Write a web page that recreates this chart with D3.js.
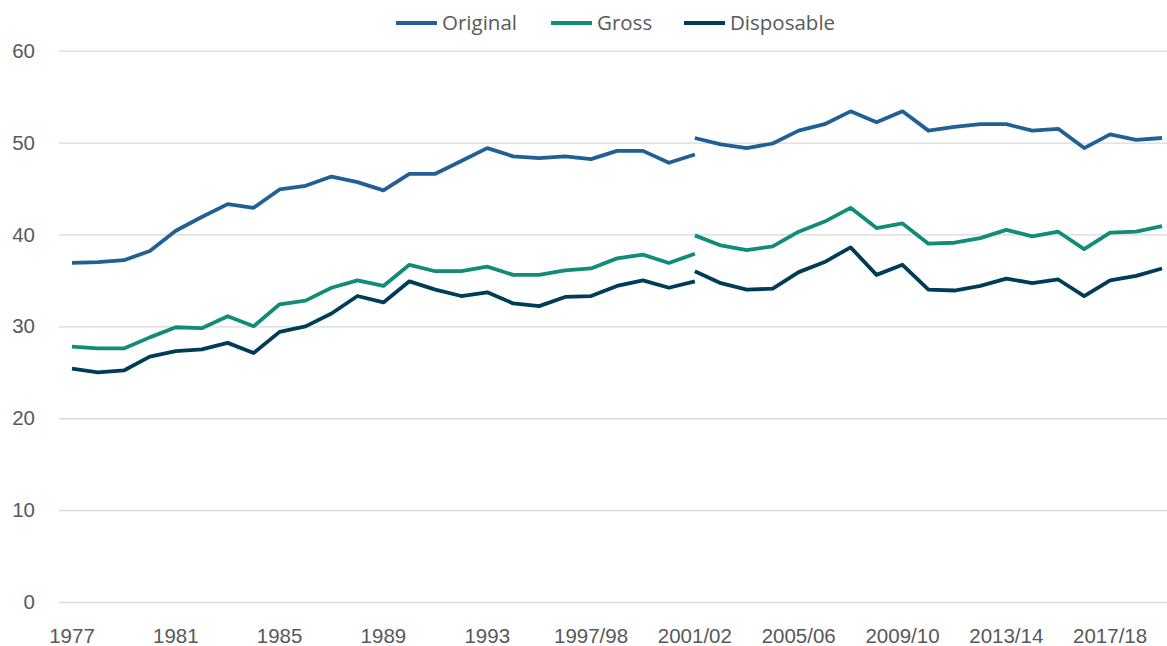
<!DOCTYPE html>
<html>
<head>
<meta charset="utf-8">
<script src="https://cdn.jsdelivr.net/npm/d3@7"></script>
<style>
  body { margin: 0; background: #fff; }
  svg { display: block; font-family: "Open Sans", "Noto Sans", sans-serif; }
</style>
</head>
<body>
<div id="chart"></div>
<script>
// categories: calendar years to 1993, then financial years
const years = ["1977","1978","1979","1980","1981","1982","1983","1984","1985","1986",
  "1987","1988","1989","1990","1991","1992","1993","1994/95","1995/96","1996/97",
  "1997/98","1998/99","1999/00","2000/01","2001/02","2002/03","2003/04","2004/05",
  "2005/06","2006/07","2007/08","2008/09","2009/10","2010/11","2011/12","2012/13",
  "2013/14","2014/15","2015/16","2016/17","2017/18","2018/19","2019/20"];

// series break at 2001/02: old method 1977 to 2001/02, new method 2001/02 on
const originalOld = [36.9,37.0,37.2,38.2,40.4,41.9,43.3,42.9,44.9,45.3,46.3,45.7,44.8,
  46.6,46.6,48.0,49.4,48.5,48.3,48.5,48.2,49.1,49.1,47.8,48.7];
const originalNew = [50.5,49.8,49.4,49.9,51.3,52.0,53.4,52.2,53.4,51.3,51.7,52.0,52.0,
  51.3,51.5,49.4,50.9,50.3,50.5];
const grossOld = [27.8,27.6,27.6,28.8,29.9,29.8,31.1,30.0,32.4,32.8,34.2,35.0,34.4,
  36.7,36.0,36.0,36.5,35.6,35.6,36.1,36.3,37.4,37.8,36.9,37.9];
const grossNew = [39.9,38.8,38.3,38.7,40.3,41.4,42.9,40.7,41.2,39.0,39.1,39.6,40.5,
  39.8,40.3,38.4,40.2,40.3,40.9];
const disposableOld = [25.4,25.0,25.2,26.7,27.3,27.5,28.2,27.1,29.4,30.0,31.4,33.3,32.6,
  34.9,34.0,33.3,33.7,32.5,32.2,33.2,33.3,34.4,35.0,34.2,34.9];
const disposableNew = [36.0,34.7,34.0,34.1,35.9,37.0,38.6,35.6,36.7,34.0,33.9,34.4,35.2,
  34.7,35.1,33.3,35.0,35.5,36.3];

const seriesNames = ["Original", "Gross", "Disposable"];
const colors = ["#206095", "#118c7b", "#003c57"];
const yTicks = [0, 10, 20, 30, 40, 50, 60];

const width = 1167, height = 646;
const fontSize = "20.5px";

const svg = d3.select("#chart").append("svg")
  .attr("width", width)
  .attr("height", height);

const x = d3.scaleBand().domain(years).range([59, 1175]).paddingInner(0).paddingOuter(0);
const y = d3.scaleLinear().domain([0, 60]).range([602, 50.7]);
const cx = d => x(d) + x.bandwidth() / 2;

// gridlines + y labels
const yAxis = svg.append("g")
  .attr("transform", "translate(59,0)")
  .call(d3.axisLeft(y).tickValues(yTicks).tickSize(-(1175 - 59)).tickPadding(24));
yAxis.select(".domain").remove();
yAxis.selectAll(".tick line").attr("stroke", "#d9d9d9").attr("stroke-width", 1.3);
yAxis.selectAll(".tick text")
  .attr("fill", "#595959")
  .style("font-size", fontSize);

// x labels, every fourth category
const xAxis = svg.append("g")
  .attr("transform", "translate(0,602)")
  .call(d3.axisBottom(x).tickValues(years.filter((d, i) => i % 4 === 0)).tickSize(0));
xAxis.select(".domain").remove();
xAxis.selectAll(".tick text")
  .attr("fill", "#595959")
  .attr("y", 41)
  .attr("dy", 0)
  .style("font-size", fontSize);

const line = d3.line().x(d => cx(d.year)).y(d => y(d.v));

function segment(vals, startIdx) {
  return vals.map((v, i) => ({ year: years[startIdx + i], v: v }));
}

const lines = [
  [originalOld, 0, 0], [originalNew, 24, 0],
  [grossOld, 0, 1], [grossNew, 24, 1],
  [disposableOld, 0, 2], [disposableNew, 24, 2]
];

lines.forEach(([vals, start, k]) => {
  svg.append("path")
    .datum(segment(vals, start))
    .attr("fill", "none")
    .attr("stroke", colors[k])
    .attr("stroke-width", 3.8)
    .attr("stroke-linejoin", "round")
    .attr("d", line);
});

// legend
const legendX = [396, 551, 684];
const legend = svg.append("g");
seriesNames.forEach((name, i) => {
  legend.append("line")
    .attr("x1", legendX[i]).attr("x2", legendX[i] + 41)
    .attr("y1", 23).attr("y2", 23)
    .attr("stroke", colors[i])
    .attr("stroke-width", 3.8);
  legend.append("text")
    .attr("x", legendX[i] + 46)
    .attr("y", 30)
    .attr("fill", "#595959")
    .style("font-size", fontSize)
    .text(name);
});
</script>
</body>
</html>
